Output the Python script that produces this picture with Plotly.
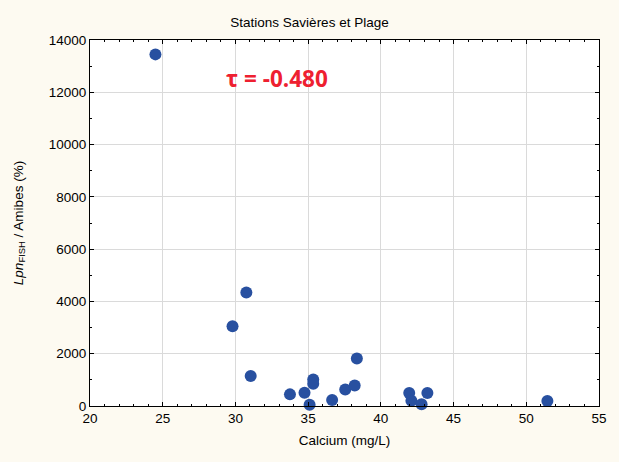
import plotly.graph_objects as go

calcium = [24.5, 30.75, 29.8, 31.05, 33.75, 34.75, 35.1, 35.35, 35.35, 36.65,
           37.55, 38.2, 38.35, 41.95, 42.1, 42.8, 43.2, 51.45]
ratio = [13450, 4345, 3050, 1145, 445, 510, 50, 1015, 850, 230,
         635, 785, 1815, 495, 205, 65, 495, 190]

x_ticks = [20, 25, 30, 35, 40, 45, 50, 55]
y_ticks = [0, 2000, 4000, 6000, 8000, 10000, 12000, 14000]

title_text = "Stations Savières et Plage"
x_title = "Calcium (mg/L)"
y_title = "<i>Lpn</i><sub>FISH</sub> / Amibes (%)"
tau_text = "τ = -0.480"

fig = go.Figure()
fig.add_trace(go.Scatter(
    x=calcium, y=ratio, mode="markers",
    marker=dict(size=12, color="#2850A0", line=dict(width=0)),
    showlegend=False, cliponaxis=False,
))

axis_common = dict(
    showline=True, linecolor="black", linewidth=1, mirror="allticks",
    ticks="inside", ticklen=4, tickcolor="black",
    showgrid=True, gridcolor="#DADADA", gridwidth=1, zeroline=False,
    tickfont=dict(family="Liberation Sans, Arial", size=13.5, color="black"),
    title_font=dict(family="Liberation Sans, Arial", size=13.5, color="black"),
)

fig.update_xaxes(
    range=[20, 55], tickvals=x_ticks, ticktext=[str(v) for v in x_ticks],
    minor=dict(dtick=1, ticks="inside", ticklen=2, tickcolor="black", showgrid=False),
    title_text=x_title, title_standoff=10,
    **axis_common,
)
fig.update_yaxes(
    range=[0, 14000], tickvals=y_ticks, ticktext=[str(v) for v in y_ticks],
    minor=dict(dtick=1000, ticks="inside", ticklen=2, tickcolor="black", showgrid=False),
    title_text=y_title, title_standoff=22,
    **axis_common,
)

fig.add_annotation(
    x=0.367, y=0.896, xref="paper", yref="paper", text=tau_text, showarrow=False,
    xanchor="center", yanchor="middle",
    font=dict(family="Open Sans, Liberation Sans", size=22.5, color="#EE2030", weight="bold"),
)

fig.update_layout(
    width=619, height=462,
    margin=dict(l=90, r=17, t=40, b=56),
    paper_bgcolor="#FDFAF1", plot_bgcolor="white",
    title=dict(text=title_text, x=0.5, xanchor="center", y=0.952, yanchor="middle",
               font=dict(family="Liberation Sans, Arial", size=13.5, color="black")),
)

fig.write_html(
    "out.html",
    config={"displayModeBar": False},
    post_script="document.body.style.margin='0';document.body.style.background='#FDFAF1';",
)
